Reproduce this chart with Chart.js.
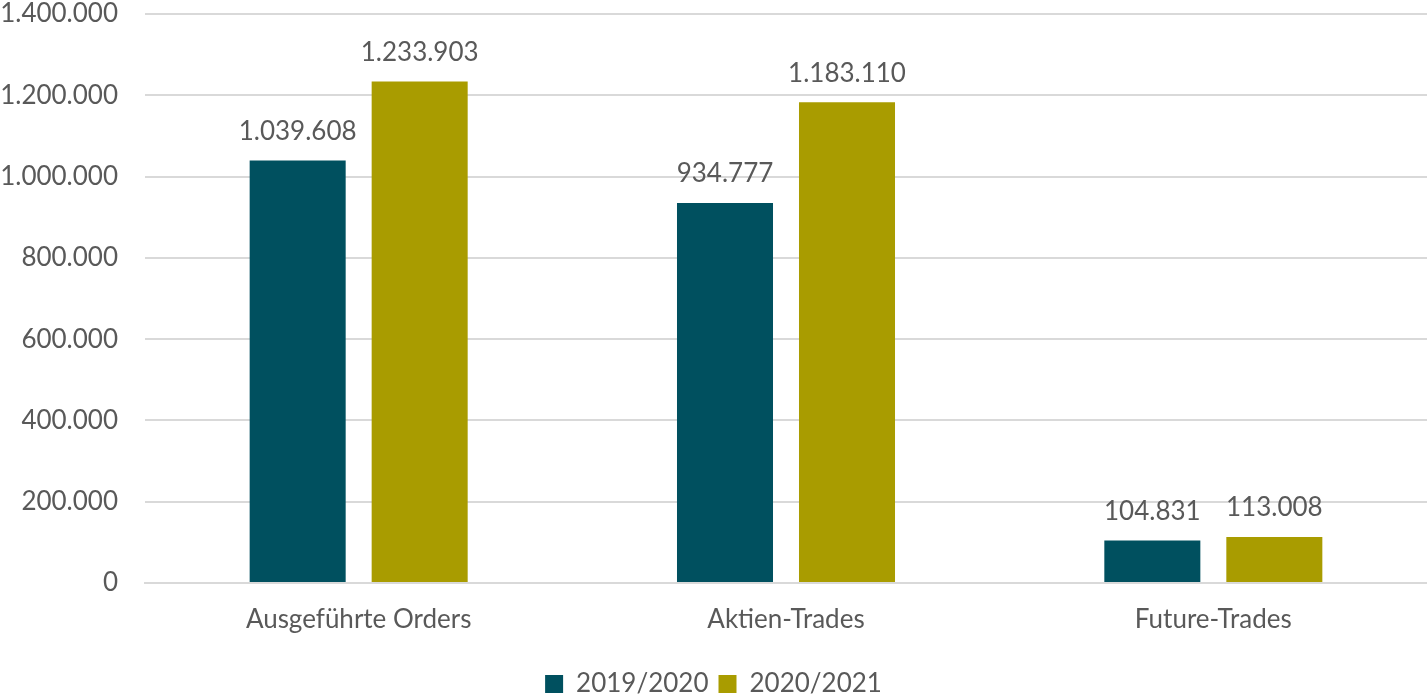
<!DOCTYPE html>
<html lang="de">
<head>
    <meta charset="UTF-8">
    <title>Orders und Trades</title>
    <script src="https://cdn.jsdelivr.net/npm/chart.js"></script>
    <style>
        html, body { margin: 0; padding: 0; background: #fff; }
        #wrap { width: 1427px; height: 696px; }
    </style>
</head>
<body>
    <div id="wrap"><canvas id="ordersChart"></canvas></div>
    <script>
        // Werte aus der Grafik
        const categories = ['Ausgeführte Orders', 'Aktien-Trades', 'Future-Trades'];
        const series2019 = [1039608, 934777, 104831];
        const series2020 = [1233903, 1183110, 113008];
        const seriesLabels = ['2019/2020', '2020/2021'];

        const fmt = v => v.toLocaleString('de-DE');
        const textColor = '#595959';
        const fontFamily = 'Lato, "Open Sans", sans-serif';
        const fontSize = 26;

        // simple value labels above the bars
        const valueLabels = {
            id: 'valueLabels',
            afterDatasetsDraw(chart) {
                const ctx = chart.ctx;
                ctx.save();
                ctx.font = fontSize + 'px ' + fontFamily;
                ctx.fillStyle = textColor;
                ctx.textAlign = 'center';
                ctx.textBaseline = 'middle';
                chart.data.datasets.forEach((ds, i) => {
                    chart.getDatasetMeta(i).data.forEach((bar, j) => {
                        ctx.fillText(fmt(ds.data[j]), bar.x, bar.y - 29);
                    });
                });
                ctx.restore();
            }
        };

        const ctx = document.getElementById('ordersChart').getContext('2d');
        new Chart(ctx, {
            type: 'bar',
            data: {
                labels: categories,
                datasets: [
                    {
                        label: seriesLabels[0],
                        data: series2019,
                        backgroundColor: '#00505F',
                        categoryPercentage: 0.571,
                        barPercentage: 0.787
                    },
                    {
                        label: seriesLabels[1],
                        data: series2020,
                        backgroundColor: '#A99C00',
                        categoryPercentage: 0.571,
                        barPercentage: 0.787
                    }
                ]
            },
            options: {
                responsive: true,
                maintainAspectRatio: false,
                animation: false,
                layout: { padding: { top: 14, right: 0, bottom: -11, left: 0 } },
                scales: {
                    x: {
                        grid: { display: false },
                        border: { color: '#D9D9D9', width: 2 },
                        ticks: {
                            color: textColor,
                            font: { family: fontFamily, size: fontSize },
                            padding: 13
                        },
                        afterFit(scale) { scale.height = 78; }
                    },
                    y: {
                        min: 0,
                        max: 1400000,
                        ticks: {
                            stepSize: 200000,
                            color: textColor,
                            font: { family: fontFamily, size: fontSize },
                            padding: 27,
                            callback: v => fmt(v)
                        },
                        grid: { color: '#D9D9D9', lineWidth: 2, drawTicks: false },
                        border: { display: false },
                        afterFit(scale) {
                            scale.width = 145;
                            scale.paddingTop = 0;
                            scale.paddingBottom = 0;
                        }
                    }
                },
                plugins: {
                    legend: {
                        position: 'bottom',
                        labels: {
                            color: textColor,
                            font: { family: fontFamily, size: fontSize },
                            boxWidth: 18,
                            boxHeight: 18,
                            padding: 10
                        }
                    },
                    tooltip: { enabled: false }
                }
            },
            plugins: [valueLabels]
        });
    </script>
</body>
</html>
